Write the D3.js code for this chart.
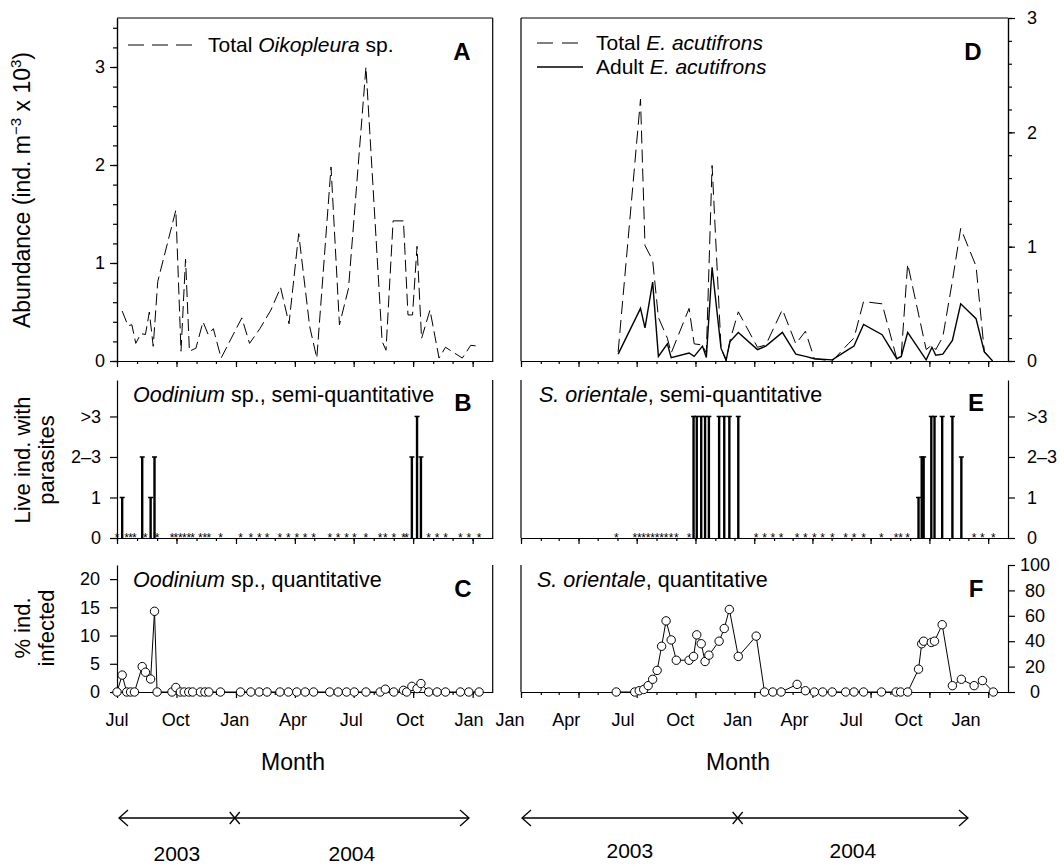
<!DOCTYPE html>
<html>
<head>
<meta charset="utf-8">
<script src="https://cdn.jsdelivr.net/npm/d3@7"></script>
<style>
  body { margin: 0; background: #fff; }
  svg { font-family: "Liberation Sans", Arial, Helvetica, sans-serif; }
  .axis path, .axis line { stroke: #000; stroke-width: 1.2; }
  .axis text { font-size: 18px; fill: #000; font-family: "Liberation Sans", Arial, sans-serif; }
  .lbl { font-size: 18px; }
</style>
</head>
<body>
<script>
// ---- data ----
// A: Total Oikopleura sp. (ind. m-3 x 10^3)
var oikoDates = ['2003-07-09','2003-07-18','2003-07-24','2003-07-30','2003-08-07','2003-08-14','2003-08-20','2003-08-26',
  '2003-09-02','2003-09-30','2003-10-08','2003-10-15','2003-10-21','2003-10-31','2003-11-11','2003-11-19','2003-11-27',
  '2003-12-09','2004-01-10','2004-01-22','2004-02-07','2004-02-24','2004-03-10','2004-03-23','2004-04-07','2004-04-24',
  '2004-05-05','2004-05-27','2004-06-09','2004-06-23','2004-07-20','2004-08-14','2004-08-20','2004-08-31','2004-09-16',
  '2004-09-23','2004-09-30','2004-10-07','2004-10-14','2004-10-27','2004-11-10','2004-11-20','2004-12-16','2004-12-29',
  '2005-01-12'];
var oikoTotal = [0.51,0.36,0.37,0.18,0.28,0.27,0.50,0.15,
  0.81,1.54,0.10,1.04,0.10,0.13,0.40,0.27,0.33,
  0.03,0.44,0.18,0.33,0.52,0.75,0.38,1.30,0.35,
  0.03,1.98,0.37,0.74,3.00,0.20,0.11,1.43,1.43,
  0.47,0.47,1.17,0.23,0.52,0.03,0.14,0.03,0.16,
  0.15];

// B, C: Oodinium sp. (semi-quantitative level 0..3, 0 = asterisk; % infected)
var oodDates = ['2003-07-01','2003-07-09','2003-07-16','2003-07-22','2003-07-28','2003-08-09','2003-08-14','2003-08-22',
  '2003-08-28','2003-09-01','2003-09-24','2003-09-30','2003-10-07','2003-10-13','2003-10-20','2003-10-26','2003-11-07',
  '2003-11-14','2003-11-20','2003-12-08','2004-01-08','2004-01-24','2004-02-06','2004-02-18','2004-03-09','2004-03-22',
  '2004-04-04','2004-04-17','2004-04-30','2004-05-25','2004-06-07','2004-06-20','2004-07-02','2004-07-20','2004-08-11',
  '2004-08-19','2004-09-01','2004-09-16','2004-09-21','2004-09-29','2004-10-07','2004-10-13','2004-10-25','2004-11-07',
  '2004-11-20','2004-12-13','2004-12-26','2005-01-11'];
var oodLevel = [0,1,0,0,0,2,0,1,
  2,0,0,0,0,0,0,0,0,
  0,0,0,0,0,0,0,0,0,
  0,0,0,0,0,0,0,0,0,
  0,0,0,0,2,3,2,0,0,
  0,0,0,0];
var oodPct = [0,3,0,0,0,4.5,3.5,2.3,
  14.3,0,0,0.8,0,0,0,0,0,
  0,0,0,0,0,0,0,0,0,
  0,0,0,0,0,0,0,0,0,
  0.5,0,0.3,0,1.0,0.6,1.5,0,0,
  0,0,0,0];

// D: E. acutifrons (ind. m-3 x 10^3)
var acutDates = ['2003-06-02','2003-07-07','2003-07-14','2003-07-26','2003-08-04','2003-08-18','2003-08-24','2003-09-21',
  '2003-09-29','2003-10-12','2003-10-18','2003-10-27','2003-11-10','2003-11-18','2003-11-24','2003-12-07','2004-01-06',
  '2004-01-19','2004-02-14','2004-03-06','2004-03-21','2004-04-04','2004-05-02','2004-05-27','2004-06-05','2004-06-20',
  '2004-07-19','2004-08-11','2004-08-18','2004-08-28','2004-09-26','2004-10-05','2004-10-11','2004-10-22','2004-11-06',
  '2004-11-19','2004-12-13','2004-12-26','2005-01-08'];
var acutTotal = [0.08,2.29,1.01,0.88,0.38,0.20,0.07,0.46,
  0.15,0.14,0.07,1.71,0.11,0.00,0.18,0.43,0.12,
  0.14,0.45,0.15,0.26,0.02,0.00,0.15,0.20,0.52,
  0.50,0.02,0.05,0.85,0.10,0.14,0.10,0.21,0.70,
  1.16,0.83,0.08,0.00];
var acutAdult = [0.06,0.46,0.29,0.69,0.04,0.15,0.03,0.07,
  0.04,0.13,0.03,0.82,0.11,0.01,0.17,0.25,0.10,
  0.13,0.25,0.06,0.04,0.02,0.01,0.10,0.13,0.32,
  0.23,0.02,0.04,0.25,0.01,0.12,0.05,0.06,0.18,
  0.50,0.37,0.08,0.00];

// E, F: S. orientale (semi-quantitative level; % infected)
var oriDates = ['2003-05-30','2003-06-28','2003-07-05','2003-07-12','2003-07-19','2003-07-26','2003-08-02','2003-08-09',
  '2003-08-16','2003-08-24','2003-09-01','2003-09-21','2003-09-28','2003-10-03','2003-10-10','2003-10-16','2003-10-22',
  '2003-11-07','2003-11-15','2003-11-23','2003-12-07','2004-01-04','2004-01-17','2004-01-30','2004-02-12','2004-03-08',
  '2004-03-21','2004-04-04','2004-04-17','2004-05-02','2004-05-23','2004-06-05','2004-06-20','2004-07-18','2004-08-10',
  '2004-08-17','2004-08-28','2004-09-14','2004-09-19','2004-09-22','2004-10-04','2004-10-09','2004-10-21','2004-11-06',
  '2004-11-20','2004-12-10','2004-12-23','2005-01-09'];
var oriLevel = [0,0,0,0,0,0,0,0,
  0,0,0,0,3,3,3,3,3,
  3,3,3,3,0,0,0,0,0,
  0,0,0,0,0,0,0,0,0,
  0,0,1,2,2,3,3,3,3,
  2,0,0,0];
var oriPct = [0,0,1,2,5,10,17,36,
  56,41,25,25,28,45,38,24,29,
  40,50,65,28,44,0,0,0,6,
  1,0,0,0,0,0,0,0,0,
  0,0,18,38,40,39,40,53,5,
  10,5,9,0];

var levelLabels = ['0', '1', '2\u20133', '>3'];

// ---- setup ----
var parse = d3.timeParse('%Y-%m-%d');
var svg = d3.select('body').append('svg').attr('width', 1064).attr('height', 867);

var L = {x0: 117, x1: 492.7}, R = {x0: 521, x1: 1008};
var rowA = {y0: 18, y1: 361}, rowB = {y0: 380, y1: 538}, rowC = {y0: 565, y1: 692};

var xL = d3.scaleTime().domain([new Date(2003, 6, 1), new Date(2005, 1, 1)]).range([L.x0, L.x1]);
var xR = d3.scaleTime().domain([new Date(2003, 0, 1), new Date(2005, 1, 1)]).range([R.x0, R.x1]);
// month labels / year arrows sit on a slightly narrower layout in the original
var xLlab = d3.scaleTime().domain([new Date(2003, 6, 1), new Date(2005, 0, 1)]).range([117, 469]);
var xRlab = d3.scaleTime().domain([new Date(2003, 0, 1), new Date(2005, 0, 1)]).range([510, 966]);

var yA = d3.scaleLinear().domain([0, 3.5]).range([rowA.y1, rowA.y0]);
var yD = d3.scaleLinear().domain([0, 3]).range([rowA.y1, rowA.y0]);
var yB = d3.scaleLinear().domain([0, 3.9]).range([rowB.y1, rowB.y0]);
var yC = d3.scaleLinear().domain([0, 22.5]).range([rowC.y1, rowC.y0]);
var yF = d3.scaleLinear().domain([0, 100]).range([rowC.y1, rowC.y0]);

var oiko = oikoDates.map((d, i) => ({date: parse(d), v: oikoTotal[i]}));
var ood = oodDates.map((d, i) => ({date: parse(d), level: oodLevel[i], pct: oodPct[i]}));
var acut = acutDates.map((d, i) => ({date: parse(d), total: acutTotal[i], adult: acutAdult[i]}));
var ori = oriDates.map((d, i) => ({date: parse(d), level: oriLevel[i], pct: oriPct[i]}));

function border(x1, y1, x2, y2) {
  svg.append('line').attr('x1', x1).attr('y1', y1).attr('x2', x2).attr('y2', y2)
    .attr('stroke', '#000').attr('stroke-width', 1.2);
}

// x axes: monthly minor ticks, quarterly major ticks
function monthAxis(x, xLab, y, withLabels) {
  var months = d3.timeMonth.range(x.domain()[0], x.domain()[1]);
  var quarters = months.filter(d => d.getMonth() % 3 === 0);
  svg.append('g').attr('class', 'axis').attr('transform', `translate(0,${y})`)
    .call(d3.axisBottom(x).tickValues(months).tickSize(3).tickSizeOuter(0).tickFormat(''));
  svg.append('g').attr('class', 'axis').attr('transform', `translate(0,${y})`)
    .call(d3.axisBottom(x).tickValues(quarters).tickSize(6).tickSizeOuter(0).tickFormat(''));
  if (withLabels) {
    svg.append('g').selectAll('text').data(quarters.filter(d => d <= xLab.domain()[1])).join('text')
      .attr('class', 'lbl')
      .attr('x', d => xLab(d)).attr('y', y + 34)
      .attr('text-anchor', 'middle')
      .text(d3.timeFormat('%b'));
  }
}

// y axes with major + minor ticks
function yAxis(scale, x, side, major, minor, fmt, pad, anchor, dx) {
  var ax = side === 'left' ? d3.axisLeft : d3.axisRight;
  if (minor) {
    svg.append('g').attr('class', 'axis').attr('transform', `translate(${x},0)`)
      .call(ax(scale).tickValues(minor).tickSize(4).tickSizeOuter(0).tickFormat(''));
  }
  var g = svg.append('g').attr('class', 'axis').attr('transform', `translate(${x},0)`)
    .call(ax(scale).tickValues(major).tickSize(7).tickSizeOuter(0).tickPadding(pad).tickFormat(fmt));
  if (anchor) g.selectAll('text').attr('text-anchor', anchor).attr('x', dx);
}

var minorA = d3.range(0, 18).map(i => i * 0.2);
var minorD = d3.range(0, 16).map(i => i * 0.2);

// === Panel A ===
border(L.x0, rowA.y0, L.x1, rowA.y0);
border(L.x1, rowA.y0, L.x1, rowA.y1);
yAxis(yA, L.x0, 'left', [0, 1, 2, 3], minorA, d3.format('d'), 5);
monthAxis(xL, xLlab, rowA.y1, false);

svg.append('path').datum(oiko)
  .attr('fill', 'none').attr('stroke', '#000').attr('stroke-width', 1)
  .attr('stroke-dasharray', '12,5')
  .attr('d', d3.line().x(d => xL(d.date)).y(d => yA(d.v)));

// === Panel D ===
border(R.x0, rowA.y0, R.x1, rowA.y0);
border(R.x0, rowA.y0, R.x0, rowA.y1);
yAxis(yD, R.x1, 'right', [0, 1, 2, 3], minorD, d3.format('d'), 12);
monthAxis(xR, xRlab, rowA.y1, false);

svg.append('path').datum(acut)
  .attr('fill', 'none').attr('stroke', '#000').attr('stroke-width', 1)
  .attr('stroke-dasharray', '13,6')
  .attr('d', d3.line().x(d => xR(d.date)).y(d => yD(d.total)));
svg.append('path').datum(acut)
  .attr('fill', 'none').attr('stroke', '#000').attr('stroke-width', 1.4)
  .attr('d', d3.line().x(d => xR(d.date)).y(d => yD(d.adult)));

// === Panels B and E (semi-quantitative) ===
function semiPanel(data, x, y) {
  var g = svg.append('g');
  var pos = data.filter(d => d.level > 0);
  g.selectAll('line.bar').data(pos).join('line').attr('class', 'bar')
    .attr('x1', d => x(d.date)).attr('x2', d => x(d.date))
    .attr('y1', y(0)).attr('y2', d => y(d.level))
    .attr('stroke', '#000').attr('stroke-width', 2.4);
  g.selectAll('line.cap').data(pos).join('line').attr('class', 'cap')
    .attr('x1', d => x(d.date) - 2.5).attr('x2', d => x(d.date) + 2.5)
    .attr('y1', d => y(d.level)).attr('y2', d => y(d.level))
    .attr('stroke', '#000').attr('stroke-width', 1.5);
  g.selectAll('text').data(data.filter(d => d.level === 0)).join('text')
    .attr('x', d => x(d.date)).attr('y', y(0) + 4)
    .attr('text-anchor', 'middle').attr('font-size', 12).text('*');
}

border(L.x1, rowB.y0, L.x1, rowB.y1);
yAxis(yB, L.x0, 'left', [0, 1, 2, 3], null, d => levelLabels[d], 9);
monthAxis(xL, xLlab, rowB.y1, false);
semiPanel(ood, xL, yB);

border(R.x0, rowB.y0, R.x0, rowB.y1);
yAxis(yB, R.x1, 'right', [0, 1, 2, 3], null, d => levelLabels[d], 12);
monthAxis(xR, xRlab, rowB.y1, false);
semiPanel(ori, xR, yB);

// === Panels C and F (quantitative) ===
function quantPanel(data, x, y) {
  svg.append('path').datum(data)
    .attr('fill', 'none').attr('stroke', '#000').attr('stroke-width', 1)
    .attr('d', d3.line().x(d => x(d.date)).y(d => y(d.pct)));
  svg.append('g').selectAll('circle').data(data).join('circle')
    .attr('cx', d => x(d.date)).attr('cy', d => y(d.pct)).attr('r', 4.2)
    .attr('fill', '#fff').attr('stroke', '#000').attr('stroke-width', 1);
}

border(L.x1, rowC.y0, L.x1, rowC.y1);
yAxis(yC, L.x0, 'left', [0, 5, 10, 15, 20], null, d3.format('d'), 10);
monthAxis(xL, xLlab, rowC.y1, true);
quantPanel(ood, xL, yC);

border(R.x0, rowC.y0, R.x0, rowC.y1);
yAxis(yF, R.x1, 'right', [0, 20, 40, 60, 80, 100], null, d3.format('d'), 12, 'middle', 27);
monthAxis(xR, xRlab, rowC.y1, true);
quantPanel(ori, xR, yF);

// === panel letters ===
var letters = [['A', 462, 60], ['B', 463, 411], ['C', 463, 597], ['D', 973, 60], ['E', 976, 411], ['F', 976, 597]];
svg.selectAll('text.letter').data(letters).join('text').attr('class', 'letter')
  .attr('x', d => d[1]).attr('y', d => d[2]).attr('text-anchor', 'middle')
  .attr('font-size', 24).attr('font-weight', 'bold').text(d => d[0]);

// === subtitles ===
function title(x, y, italic, rest) {
  var t = svg.append('text').attr('x', x).attr('y', y).attr('font-size', 21.5);
  t.append('tspan').attr('font-style', 'italic').text(italic);
  t.append('tspan').text(rest);
  return t;
}
title(133, 402, 'Oodinium', ' sp., semi-quantitative');
title(539, 402, 'S. orientale', ', semi-quantitative');
title(133, 587, 'Oodinium', ' sp., quantitative');
title(537, 587, 'S. orientale', ', quantitative');

// === legends ===
svg.append('line').attr('x1', 128).attr('x2', 192).attr('y1', 45).attr('y2', 45)
  .attr('stroke', '#000').attr('stroke-dasharray', '16,8');
var lt = svg.append('text').attr('x', 208).attr('y', 52).attr('font-size', 21);
lt.append('tspan').text('Total ');
lt.append('tspan').attr('font-style', 'italic').text('Oikopleura');
lt.append('tspan').text(' sp.');

svg.append('line').attr('x1', 537).attr('x2', 580).attr('y1', 43).attr('y2', 43)
  .attr('stroke', '#000').attr('stroke-dasharray', '16,9');
svg.append('line').attr('x1', 537).attr('x2', 583).attr('y1', 67).attr('y2', 67)
  .attr('stroke', '#000').attr('stroke-width', 1.4);
[['Total ', 50], ['Adult ', 74]].forEach(function (d) {
  var t = svg.append('text').attr('x', 596).attr('y', d[1]).attr('font-size', 21);
  t.append('tspan').text(d[0]);
  t.append('tspan').attr('font-style', 'italic').text('E. acutifrons');
});

// === axis titles ===
var yt = svg.append('text').attr('transform', 'translate(30,190) rotate(-90)')
  .attr('text-anchor', 'middle').attr('font-size', 23);
yt.append('tspan').text('Abundance (ind. m');
yt.append('tspan').attr('dy', -9).attr('font-size', 15).text('\u22123');
yt.append('tspan').attr('dy', 9).text(' x 10');
yt.append('tspan').attr('dy', -9).attr('font-size', 15).text('3');
yt.append('tspan').attr('dy', 9).text(')');

[['Live ind. with', 30, 460], ['parasites', 54, 460], ['% ind.', 30, 628], ['infected', 54, 628]].forEach(function (d) {
  svg.append('text').attr('transform', `translate(${d[1]},${d[2]}) rotate(-90)`)
    .attr('text-anchor', 'middle').attr('font-size', 22).text(d[0]);
});

// === Month labels and year arrows ===
function yearArrow(a, m, b, y, yLabel) {
  var g = svg.append('g').attr('stroke', '#000').attr('stroke-width', 1.3).attr('fill', 'none');
  g.append('line').attr('x1', a).attr('x2', b).attr('y1', y).attr('y2', y);
  g.append('path').attr('d', `M${a + 9},${y - 8}L${a},${y}L${a + 9},${y + 8}`);
  g.append('path').attr('d', `M${b - 9},${y - 8}L${b},${y}L${b - 9},${y + 8}`);
  g.append('path').attr('d', `M${m - 5},${y - 6}L${m + 5},${y + 6}M${m - 5},${y + 6}L${m + 5},${y - 6}`);
  svg.append('text').attr('x', (a + m) / 2).attr('y', yLabel).attr('text-anchor', 'middle').attr('font-size', 21).text('2003');
  svg.append('text').attr('x', (m + b) / 2).attr('y', yLabel).attr('text-anchor', 'middle').attr('font-size', 21).text('2004');
}
yearArrow(xLlab(new Date(2003, 6, 1)) + 2, xLlab(new Date(2004, 0, 1)), xLlab(new Date(2005, 0, 1)), 818, 861);
yearArrow(R.x0 + 1, xRlab(new Date(2004, 0, 1)), xRlab(new Date(2005, 0, 1)) + 2, 818, 858);

[[xLlab, new Date(2003, 6, 1)], [xRlab, new Date(2003, 0, 1)]].forEach(function (d) {
  var s = d[0], mid = (s(d[1]) + s(new Date(2005, 0, 1))) / 2;
  svg.append('text').attr('x', mid).attr('y', 770).attr('text-anchor', 'middle').attr('font-size', 23).text('Month');
});
</script>
</body>
</html>
